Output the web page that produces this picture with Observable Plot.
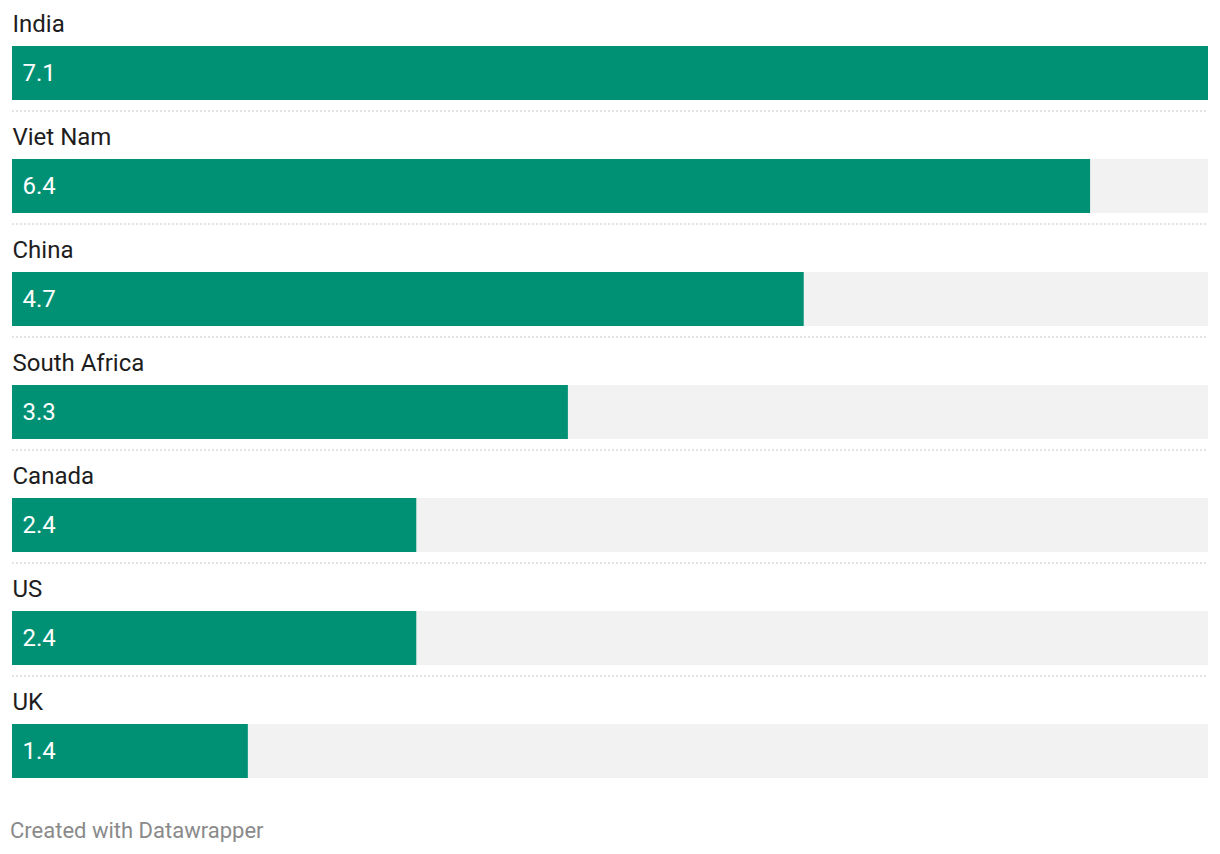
<!DOCTYPE html>
<html>
<head>
<meta charset="utf-8">
<script src="https://cdn.jsdelivr.net/npm/d3@7"></script>
<script src="https://cdn.jsdelivr.net/npm/@observablehq/plot@0.6"></script>
<style>
  html, body { margin: 0; padding: 0; background: #fff; }
  body { font-family: Roboto, "Noto Sans", sans-serif; }
  #caption { font-family: Roboto, sans-serif; font-size: 22px; color: #8a8a8a; margin: 29px 0 0 10px; line-height: 1; }
</style>
</head>
<body>
<div id="chart"></div>
<div id="caption">Created with Datawrapper</div>
<script>
const countries = ["India", "Viet Nam", "China", "South Africa", "Canada", "US", "UK"];
const values = [7.1, 6.4, 4.7, 3.3, 2.4, 2.4, 1.4];
const maxValue = 7.1;

const data = countries.map((c, i) => ({country: c, value: values[i]}));
const separators = countries.slice(0, -1);

const chart = Plot.plot({
  width: 1220,
  height: 791,
  marginLeft: 12,
  marginRight: 12,
  marginTop: 0,
  marginBottom: 0,
  x: {domain: [0, maxValue], axis: null},
  y: {domain: countries, axis: null, padding: 0},
  style: {fontFamily: "Roboto, sans-serif"},
  marks: [
    Plot.barX(data, {y: "country", x1: 0, x2: maxValue, fill: "#f2f2f2", insetTop: 46, insetBottom: 13}),
    Plot.barX(data, {y: "country", x1: 0, x2: "value", fill: "#009175", insetTop: 46, insetBottom: 13}),
    Plot.ruleY(separators, {y: d => d, dy: 54, stroke: "#c8c8c8", strokeWidth: 1, strokeDasharray: "2,2"}),
    Plot.text(data, {y: "country", x: 0, text: "country", textAnchor: "start", dy: -33, fontSize: 24, fill: "#1d1d1d"}),
    Plot.text(data, {y: "country", x: 0, text: d => d.value.toFixed(1), textAnchor: "start", dx: 10, dy: 16, fontSize: 24, fill: "#ffffff"})
  ]
});
document.getElementById("chart").appendChild(chart);
</script>
</body>
</html>
